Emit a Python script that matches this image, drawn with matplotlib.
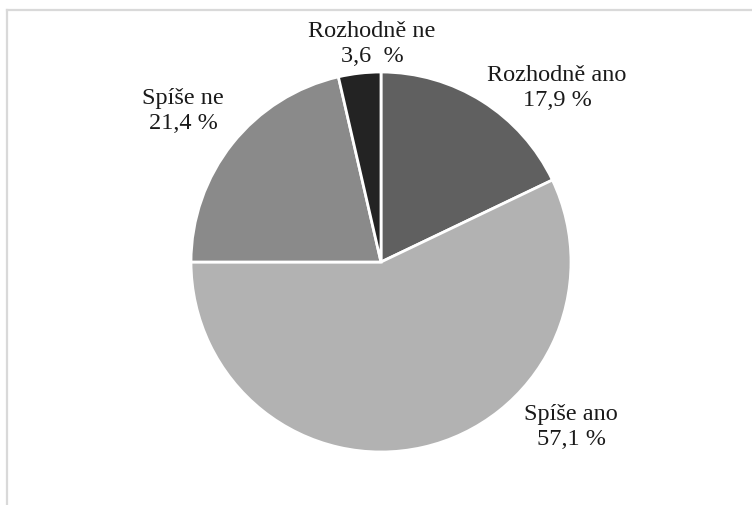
import matplotlib.pyplot as plt
from matplotlib.lines import Line2D

# dati
categorie = ["Rozhodně ano", "Spíše ano", "Spíše ne", "Rozhodně ne"]
valori = [17.9, 57.1, 21.4, 3.6]
etichette = ["Rozhodně ano\n17,9 %", "Spíše ano\n57,1 %", "Spíše ne\n21,4 %", "Rozhodně ne\n3,6  %"]
colori = ["#606060", "#b2b2b2", "#8a8a8a", "#232323"]

# posizioni etichette in pixel (centro x, centro y)
pos_etichette = [(557, 88), (571, 427), (183, 111), (372, 44)]

W, H = 752, 506
cx, cy, r = 381, 263, 190

plt.rcParams['font.family'] = ['Liberation Serif', 'DejaVu Serif']
fig = plt.figure(figsize=(W / 100, H / 100), dpi=100)
ax = fig.add_axes([(cx - r) / W, (H - cy - r) / H, 2 * r / W, 2 * r / H])

ax.pie(valori, colors=colori, startangle=90, counterclock=False,
       wedgeprops=dict(edgecolor="white", linewidth=2.0))
ax.set_xlim(-1, 1)
ax.set_ylim(-1, 1)
ax.set_aspect("auto")
ax.axis("off")

for testo, (px, py) in zip(etichette, pos_etichette):
    ax.text((px - cx) / r, (cy - py) / r, testo, ha="center", va="center",
            fontsize=17.5, color="#1a1a1a", linespacing=1.2, clip_on=False)

# cornice grigia (solo sopra e a sinistra)
fig.add_artist(Line2D([7 / W, 1.0], [1 - 11 / H, 1 - 11 / H], color="#d9d9d9", lw=1.6))
fig.add_artist(Line2D([7 / W, 7 / W], [0, 1 - 11 / H], color="#d9d9d9", lw=1.6))

plt.savefig("out.png", dpi=100, facecolor="white")
